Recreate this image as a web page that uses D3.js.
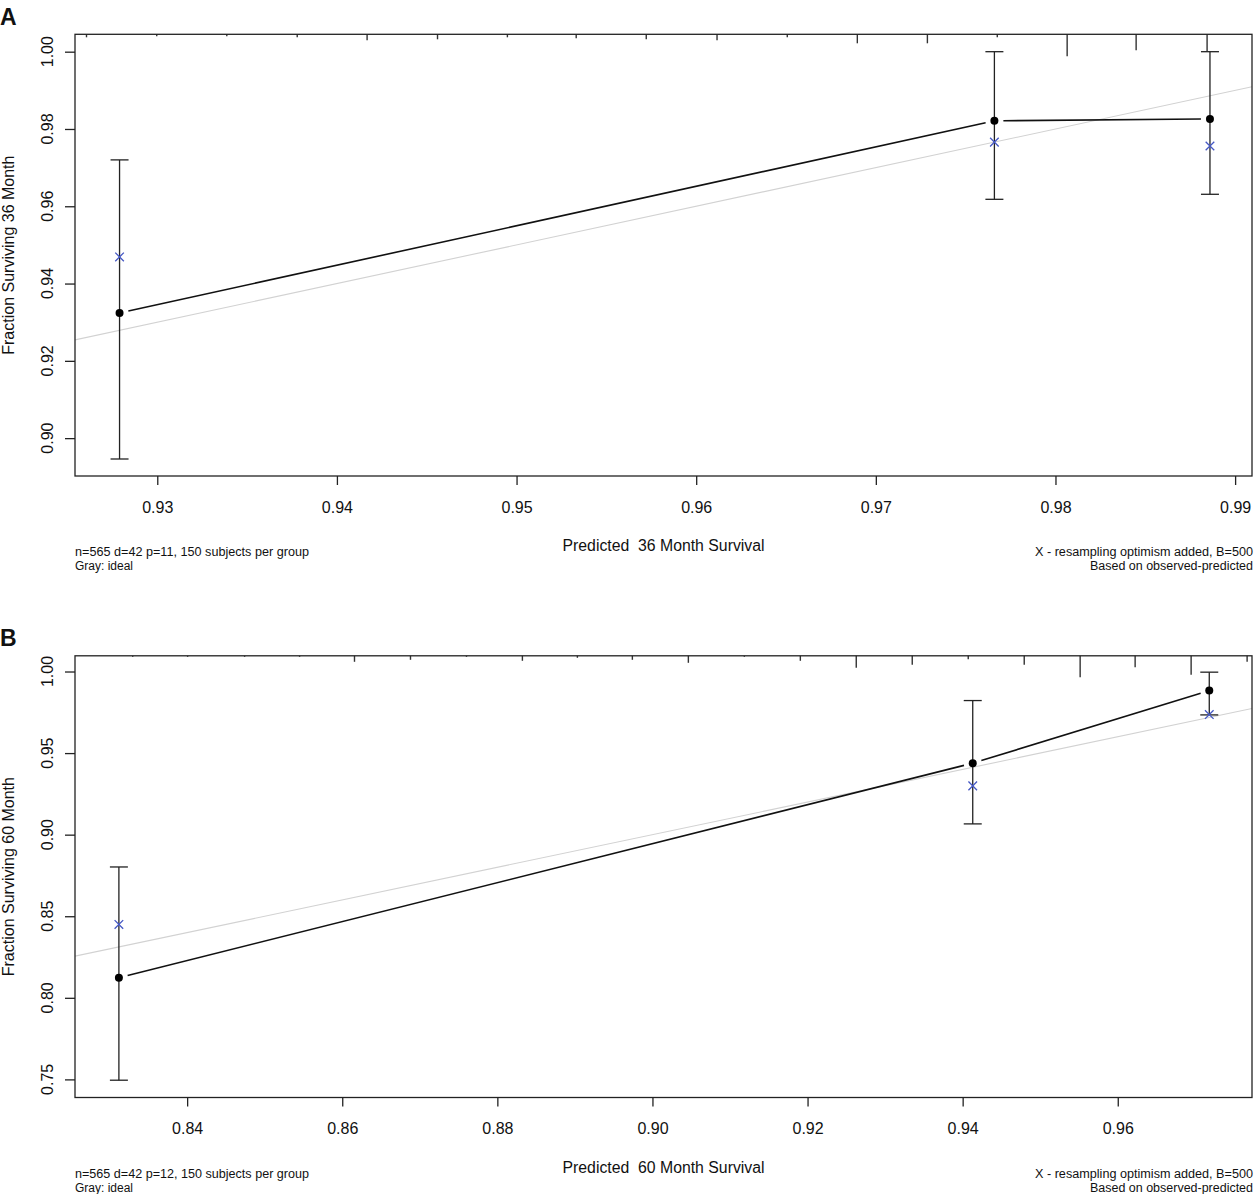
<!DOCTYPE html>
<html>
<head>
<meta charset="utf-8">
<script src="https://cdn.jsdelivr.net/npm/d3@7"></script>
<style>
  body { margin: 0; background: #fff; }
  svg text { font-family: "Liberation Sans", Arial, sans-serif; fill: #111; }
</style>
</head>
<body>
<svg id="chart" width="1255" height="1194"></svg>
<script>
// Panel A: 36 month calibration
const predA = [0.9279, 0.9766, 0.9886];
const obsA = [0.9324, 0.9821, 0.9826];
const lowerA = [0.8946, 0.9618, 0.9631];
const upperA = [0.9720, 1.0000, 1.0000];
const correctedA = [0.9469, 0.9766, 0.9756];
const spikeAtA = [0.92606, 0.92997, 0.93387, 0.93779, 0.94168, 0.94560, 0.94949, 0.95332, 0.95722,
                  0.96116, 0.96507, 0.96897, 0.97287, 0.97676, 0.98065, 0.98449, 0.98844];
const spikeFreqA = [3, 2, 2, 3, 6, 5, 3, 4, 5, 6, 3, 9, 9, 3, 22, 16, 17];
const xTicksA = [0.93, 0.94, 0.95, 0.96, 0.97, 0.98, 0.99];
const yTicksA = [0.90, 0.92, 0.94, 0.96, 0.98, 1.00];

// Panel B: 60 month calibration
const predB = [0.8312, 0.9413, 0.9718];
const obsB = [0.8123, 0.9438, 0.9883];
const lowerB = [0.7495, 0.9066, 0.9734];
const upperB = [0.8802, 0.9822, 0.9996];
const correctedB = [0.8450, 0.9299, 0.9736];
const spikeAtB = [0.83298, 0.84006, 0.84741, 0.85450, 0.86158, 0.86880, 0.87602, 0.88323, 0.89032,
                  0.89741, 0.90463, 0.91185, 0.91907, 0.92628, 0.93350, 0.94072, 0.94794, 0.95515,
                  0.96224, 0.96946, 0.97668];
const spikeFreqB = [1, 1, 1, 1, 6, 4, 1, 5, 2, 4, 7, 1, 5, 12, 9, 3.5, 9, 21.5, 11.5, 19, 6];
const xTicksB = [0.84, 0.86, 0.88, 0.90, 0.92, 0.94, 0.96];
const yTicksB = [0.75, 0.80, 0.85, 0.90, 0.95, 1.00];

const svg = d3.select('#chart');

function drawPanel(p) {
    const left = 75, right = 1252;
    const top = p.top, bottom = p.top + 441.7;

    const x = d3.scaleLinear().domain(p.xDomain).range([left, right]);
    const y = d3.scaleLinear().domain(p.yDomain).range([bottom, top]);
    const spikeLen = d3.scaleLinear().domain([0, d3.max(p.spikeFreq)]).range([0, p.maxSpike]);

    const g = svg.append('g');
    const clipId = 'clip' + p.label;
    svg.append('clipPath').attr('id', clipId)
        .append('rect').attr('x', left).attr('y', top).attr('width', right - left).attr('height', bottom - top);

    // ideal line (gray)
    g.append('line')
        .attr('clip-path', `url(#${clipId})`)
        .attr('x1', x(p.xDomain[0])).attr('y1', y(p.xDomain[0]))
        .attr('x2', x(p.xDomain[1])).attr('y2', y(p.xDomain[1]))
        .attr('stroke', '#d2d2d2').attr('stroke-width', 1.1);

    // spike histogram from the top
    g.selectAll('.spike').data(p.spikeAt).enter().append('line')
        .attr('x1', d => x(d)).attr('x2', d => x(d))
        .attr('y1', top).attr('y2', (d, i) => top + spikeLen(p.spikeFreq[i]))
        .attr('stroke', '#333').attr('stroke-width', 1.4);

    // error bars
    const cap = 9;
    p.pred.forEach((d, i) => {
        const cx = x(d);
        g.append('line').attr('x1', cx).attr('x2', cx)
            .attr('y1', y(p.upper[i])).attr('y2', y(p.lower[i]))
            .attr('stroke', '#222').attr('stroke-width', 1.3);
        [p.upper[i], p.lower[i]].forEach(v => {
            g.append('line').attr('x1', cx - cap).attr('x2', cx + cap)
                .attr('y1', y(v)).attr('y2', y(v))
                .attr('stroke', '#222').attr('stroke-width', 1.3);
        });
    });

    // calibration line with gaps near the points
    const gap = 9;
    for (let i = 0; i < p.pred.length - 1; i++) {
        const ax = x(p.pred[i]), ay = y(p.obs[i]);
        const bx = x(p.pred[i + 1]), by = y(p.obs[i + 1]);
        const len = Math.hypot(bx - ax, by - ay);
        const ux = (bx - ax) / len, uy = (by - ay) / len;
        g.append('line')
            .attr('x1', ax + ux * gap).attr('y1', ay + uy * gap)
            .attr('x2', bx - ux * gap).attr('y2', by - uy * gap)
            .attr('stroke', '#111').attr('stroke-width', 1.6);
    }

    // observed points
    g.selectAll('.pt').data(p.pred).enter().append('circle')
        .attr('cx', d => x(d)).attr('cy', (d, i) => y(p.obs[i]))
        .attr('r', 4).attr('fill', '#000');

    // bias-corrected crosses
    const s = 4.3;
    p.pred.forEach((d, i) => {
        const cx = x(d), cy = y(p.corrected[i]);
        g.append('path')
            .attr('d', `M${cx - s},${cy - s}L${cx + s},${cy + s}M${cx - s},${cy + s}L${cx + s},${cy - s}`)
            .attr('stroke', '#4457c4').attr('stroke-width', 1.3).attr('fill', 'none');
    });

    // frame
    g.append('rect').attr('x', left).attr('y', top)
        .attr('width', right - left).attr('height', bottom - top)
        .attr('fill', 'none').attr('stroke', '#222').attr('stroke-width', 1.3);

    // x axis
    const xAxis = g.append('g').attr('transform', `translate(0,${bottom})`)
        .call(d3.axisBottom(x).tickValues(p.xTicks).tickSize(9).tickPadding(0).tickFormat(d3.format('.2f')));
    xAxis.select('.domain').remove();
    xAxis.selectAll('line').attr('stroke', '#222').attr('stroke-width', 1.3);
    xAxis.selectAll('text').attr('y', 0).attr('dy', null)
        .attr('transform', 'translate(0,36.5)')
        .attr('font-size', 16).attr('font-family', '"Liberation Sans", Arial, sans-serif');

    // y axis
    const yAxis = g.append('g').attr('transform', `translate(${left},0)`)
        .call(d3.axisLeft(y).tickValues(p.yTicks).tickSize(10).tickFormat(d3.format('.2f')));
    yAxis.select('.domain').remove();
    yAxis.selectAll('line').attr('stroke', '#222').attr('stroke-width', 1.3);
    yAxis.selectAll('text').remove();
    g.selectAll('.ylab').data(p.yTicks).enter().append('text')
        .attr('transform', d => `translate(47.5,${y(d)}) rotate(-90)`)
        .attr('text-anchor', 'middle').attr('dy', '0.35em')
        .attr('font-size', 16)
        .text(d3.format('.2f'));

    // axis titles
    g.append('text')
        .attr('transform', `translate(14,${(top + bottom) / 2}) rotate(-90)`)
        .attr('text-anchor', 'middle').attr('font-size', 16)
        .text(p.yTitle);
    g.append('text')
        .attr('x', (left + right) / 2).attr('y', bottom + 75)
        .attr('text-anchor', 'middle').attr('font-size', 16)
        .attr('textLength', 202).attr('lengthAdjust', 'spacingAndGlyphs')
        .attr('xml:space', 'preserve')
        .text(p.xTitle);

    // footnotes
    g.append('text').attr('x', left).attr('y', bottom + 80).attr('font-size', 12)
        .attr('textLength', 234).attr('lengthAdjust', 'spacingAndGlyphs')
        .text(p.note);
    g.append('text').attr('x', left).attr('y', bottom + 94).attr('font-size', 12).text('Gray: ideal');
    g.append('text').attr('x', right + 1).attr('y', bottom + 80).attr('font-size', 12)
        .attr('text-anchor', 'end').attr('textLength', 218).attr('lengthAdjust', 'spacingAndGlyphs')
        .text('X - resampling optimism added, B=500');
    g.append('text').attr('x', right + 1).attr('y', bottom + 94).attr('font-size', 12)
        .attr('text-anchor', 'end').attr('textLength', 163).attr('lengthAdjust', 'spacingAndGlyphs')
        .text('Based on observed-predicted');

    // panel letter
    svg.append('text').attr('x', 0).attr('y', p.top - 9.5)
        .attr('font-size', 23).attr('font-weight', 'bold')
        .text(p.label);
}

drawPanel({
    label: 'A', top: 34.3,
    xDomain: [0.92542, 0.99094], yDomain: [0.8902, 1.0045],
    pred: predA, obs: obsA, lower: lowerA, upper: upperA, corrected: correctedA,
    spikeAt: spikeAtA, spikeFreq: spikeFreqA, maxSpike: 22,
    xTicks: xTicksA, yTicks: yTicksA,
    yTitle: 'Fraction Surviving 36 Month',
    xTitle: 'Predicted  36 Month Survival',
    note: 'n=565 d=42 p=11, 150 subjects per group'
});

drawPanel({
    label: 'B', top: 655.8,
    xDomain: [0.82554, 0.97731], yDomain: [0.7389, 1.00963],
    pred: predB, obs: obsB, lower: lowerB, upper: upperB, corrected: correctedB,
    spikeAt: spikeAtB, spikeFreq: spikeFreqB, maxSpike: 21.5,
    xTicks: xTicksB, yTicks: yTicksB,
    yTitle: 'Fraction Surviving 60 Month',
    xTitle: 'Predicted  60 Month Survival',
    note: 'n=565 d=42 p=12, 150 subjects per group'
});
</script>
</body>
</html>
